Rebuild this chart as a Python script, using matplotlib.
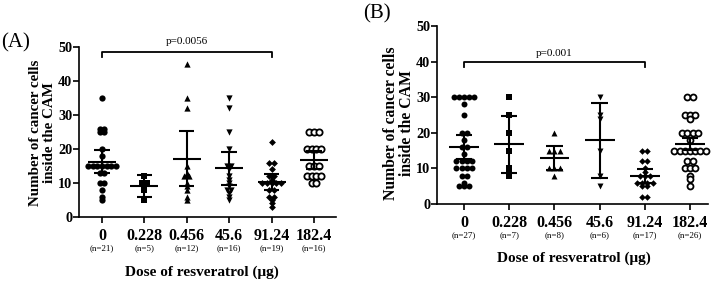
import numpy as np
import matplotlib.pyplot as plt

plt.rcParams['font.family'] = ['Liberation Serif', 'DejaVu Serif']

doses = ['0', '0.228', '0.456', '45.6', '91.24', '182.4']
markers = ['o', 's', '^', 'v', 'D', 'o']

# panel A
n_a = [21, 5, 12, 16, 19, 16]
vals_a = [
    [35, 26, 26, 25, 25, 20, 18, 15, 15, 15, 15, 15, 15, 15, 13, 13, 10, 10, 8, 6, 5],
    [12, 10, 10, 8, 5],
    [45, 35, 32, 15, 13, 12, 12, 10, 9, 8, 6, 5],
    [35, 32, 25, 20, 15, 15, 14, 12, 11, 10, 9, 8, 8, 7, 6, 5],
    [22, 16, 16, 14, 12, 12, 11, 10, 10, 10, 10, 10, 8, 8, 6, 6, 5, 4, 3],
    [25, 25, 25, 20, 20, 20, 20, 15, 15, 15, 12, 12, 12, 12, 10, 10],
]
mean_a = [16.3, 9.0, 17.1, 14.3, 10.3, 16.8]
lo_a = [13.0, 5.8, 9.0, 9.5, 8.0, 14.0]
hi_a = [19.8, 12.3, 25.3, 19.2, 12.6, 19.5]

# panel B
n_b = [27, 7, 8, 6, 17, 26]
vals_b = [
    [30, 30, 30, 30, 30, 28, 25, 20, 20, 18, 16, 16, 14, 12, 12, 12, 12,
     10, 10, 10, 10, 8, 8, 6, 5, 5, 5],
    [30, 25, 20, 15, 10, 9, 8],
    [20, 15, 15, 15, 10, 10, 10, 8],
    [30, 25, 24, 15, 8, 5],
    [15, 15, 12, 12, 10, 9, 8, 8, 8, 6, 6, 6, 6, 5, 5, 2, 2],
    [30, 30, 25, 25, 25, 24, 20, 20, 20, 20, 18, 15, 15, 15, 15, 15, 15, 15,
     12, 12, 10, 10, 10, 8, 7, 5],
]
mean_b = [16.0, 16.8, 12.9, 17.9, 8.0, 16.9]
lo_b = [12.7, 8.8, 9.6, 7.3, 6.0, 15.3]
hi_b = [19.3, 24.7, 16.2, 28.5, 9.9, 18.5]


def swarm(vals, step):
    vals = np.asarray(vals, float)
    off = np.zeros(len(vals))
    for v in np.unique(vals):
        idx = np.where(vals == v)[0]
        off[idx] = (np.arange(len(idx)) - (len(idx) - 1) / 2) * step
    return off


def panel(ax, vals, mean, lo, hi, n, step, msz, xlim, p_text, br_y, p_y):
    for i, v in enumerate(vals):
        x = i + swarm(v, step)
        if i == 5:
            ax.scatter(x, v, s=msz ** 2, marker='o', facecolor='white',
                       edgecolor='black', linewidth=1.3, zorder=3, clip_on=False)
        else:
            s = msz ** 2 * (0.6 if markers[i] == 'D' else 1.0)
            ax.scatter(x, v, s=s, marker=markers[i], color='black',
                       linewidth=0, zorder=3, clip_on=False)
    pos = np.arange(len(vals))
    ax.hlines(mean, pos - 0.33, pos + 0.33, color='black', lw=1.5, zorder=4)
    ax.vlines(pos, lo, hi, color='black', lw=1.5, zorder=4)
    ax.hlines(lo, pos - 0.18, pos + 0.18, color='black', lw=1.5, zorder=4)
    ax.hlines(hi, pos - 0.18, pos + 0.18, color='black', lw=1.5, zorder=4)

    ax.plot([0, 0, 4, 4], [br_y - 1.4, br_y, br_y, br_y - 1.4], color='black',
            lw=1.3, clip_on=False)
    ax.text(2, p_y, p_text, ha='center', va='center', fontsize=8)

    ax.set_xlim(*xlim)
    ax.set_ylim(0, 50)
    ax.set_yticks([0, 10, 20, 30, 40, 50])
    ax.set_xticks(pos)
    ax.set_xticklabels(doses)
    for sp in ['top', 'right']:
        ax.spines[sp].set_visible(False)
    for sp in ['left', 'bottom']:
        ax.spines[sp].set_linewidth(1.2)
    ax.tick_params(axis='both', width=1.2, length=4, direction='out')
    ax.tick_params(axis='x', labelsize=11.5, pad=4)
    ax.tick_params(axis='y', labelsize=10.3, pad=0.8)
    for lab in ax.get_xticklabels() + ax.get_yticklabels():
        lab.set_fontweight('bold')
    for i, k in enumerate(n):
        ax.annotate('(n=%d)' % k, xy=(i, 0), xycoords=('data', 'axes fraction'),
                    xytext=(0, -22.5), textcoords='offset points',
                    ha='center', va='center', fontsize=6.5)


fig = plt.figure(figsize=(7.14, 2.83), dpi=100)
W, H = 714, 283

ax_a = fig.add_axes([79 / W, (H - 217) / H, (336 - 79) / W, (217 - 47) / H])
panel(ax_a, vals_a, mean_a, lo_a, hi_a, n_a, 0.11, 4.5, (-0.54, 5.52),
      'p=0.0056', 48.6, 51.7)

ax_b = fig.add_axes([437 / W, (H - 204) / H, (708 - 437) / W, (204 - 26) / H])
panel(ax_b, vals_b, mean_b, lo_b, hi_b, n_b, 0.115, 4.3, (-0.6, 5.4),
      'p=0.001', 40.0, 42.4)

ylab = 'Number of cancer cells\ninside the CAM'
fig.text(42.5 / W, 1 - 133 / H, ylab, rotation=90, ha='center', va='center',
         fontsize=10.8, fontweight='bold', linespacing=1.1)
fig.text(399 / W, 1 - 123 / H, ylab, rotation=90, ha='center', va='center',
         fontsize=11.3, fontweight='bold', linespacing=1.05)

fig.text(202 / W, 1 - 272 / H, 'Dose of resveratrol (\u03bcg)', ha='center',
         va='center', fontsize=11, fontweight='bold')
fig.text(574 / W, 1 - 258 / H, 'Dose of resveratrol (\u03bcg)', ha='center',
         va='center', fontsize=11, fontweight='bold')

fig.text(16 / W, 1 - 43 / H, '(A)', ha='center', va='center', fontsize=15)
fig.text(377 / W, 1 - 14 / H, '(B)', ha='center', va='center', fontsize=15)

fig.savefig('out.png', dpi=100)
